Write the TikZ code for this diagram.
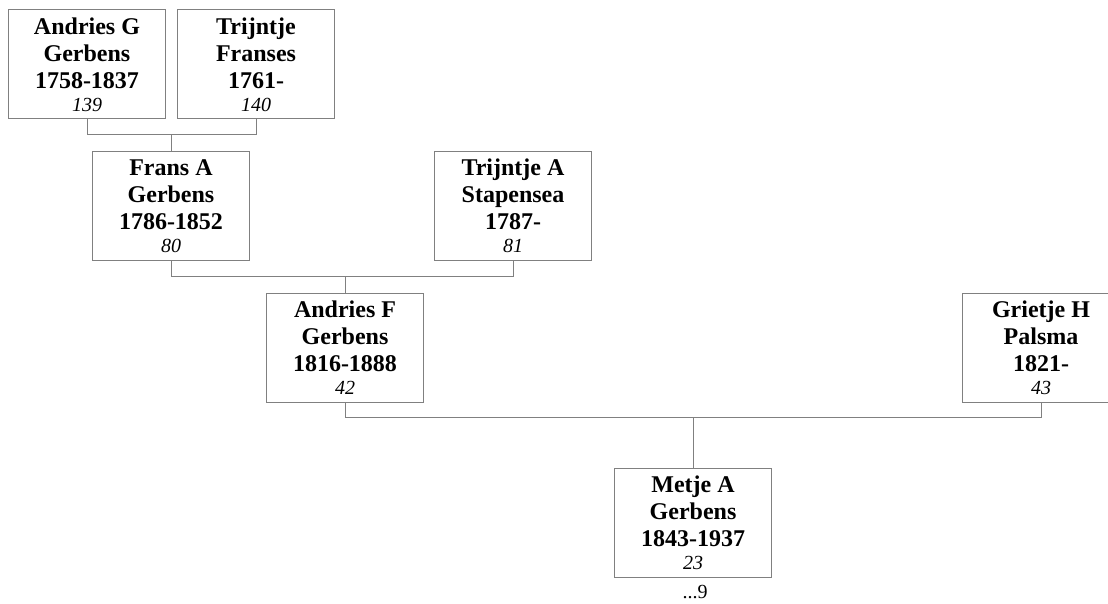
\documentclass[tikz,border=0pt]{standalone}
\usepackage{fontspec}
\setmainfont{Liberation Serif}
\begin{document}
\begin{tikzpicture}[x=1pt,y=-1pt,
  person/.style={draw=black!50, line width=1pt, minimum width=157pt, minimum height=109pt,
    inner sep=0pt, align=center, font=\fontsize{24}{27}\selectfont\bfseries},
  link/.style={draw=black!50, line width=1pt}]
\useasboundingbox (0,0) rectangle (1108,604);
\newcommand{\idn}[1]{\\[-4pt]{\fontsize{20}{23}\selectfont\mdseries\itshape #1}}
\node[person] (ag) at (87,64.5) {Andries G\\Gerbens\\1758-1837\idn{139}};
\node[person] (tf) at (256,64.5) {Trijntje\\Franses\\1761-\idn{140}};
\node[person] (fa) at (171,206) {Frans A\\Gerbens\\1786-1852\idn{80}};
\node[person] (ta) at (513,206) {Trijntje A\\Stapensea\\1787-\idn{81}};
\node[person] (af) at (345,347.5) {Andries F\\Gerbens\\1816-1888\idn{42}};
\node[person] (gp) at (1041,347.5) {Grietje H\\Palsma\\1821-\idn{43}};
\node[person] (ma) at (693,523) {Metje A\\Gerbens\\1843-1937\idn{23}};
\node[anchor=base, inner sep=0pt, font=\fontsize{20}{23}\selectfont] (more) at (695,598) {...9};
% connectors
\draw[link] (ag.south) -- (ag.south |- 0,135) -| (tf.south);
\draw[link] (fa.north |- 0,135) -- (fa.north);
\draw[link] (fa.south) -- (fa.south |- 0,276) -| (ta.south);
\draw[link] (af.north |- 0,276) -- (af.north);
\draw[link] (af.south) -- (af.south |- 0,417.5) -| (gp.south);
\draw[link] (ma.north |- 0,417.5) -- (ma.north);
\end{tikzpicture}
\end{document}
